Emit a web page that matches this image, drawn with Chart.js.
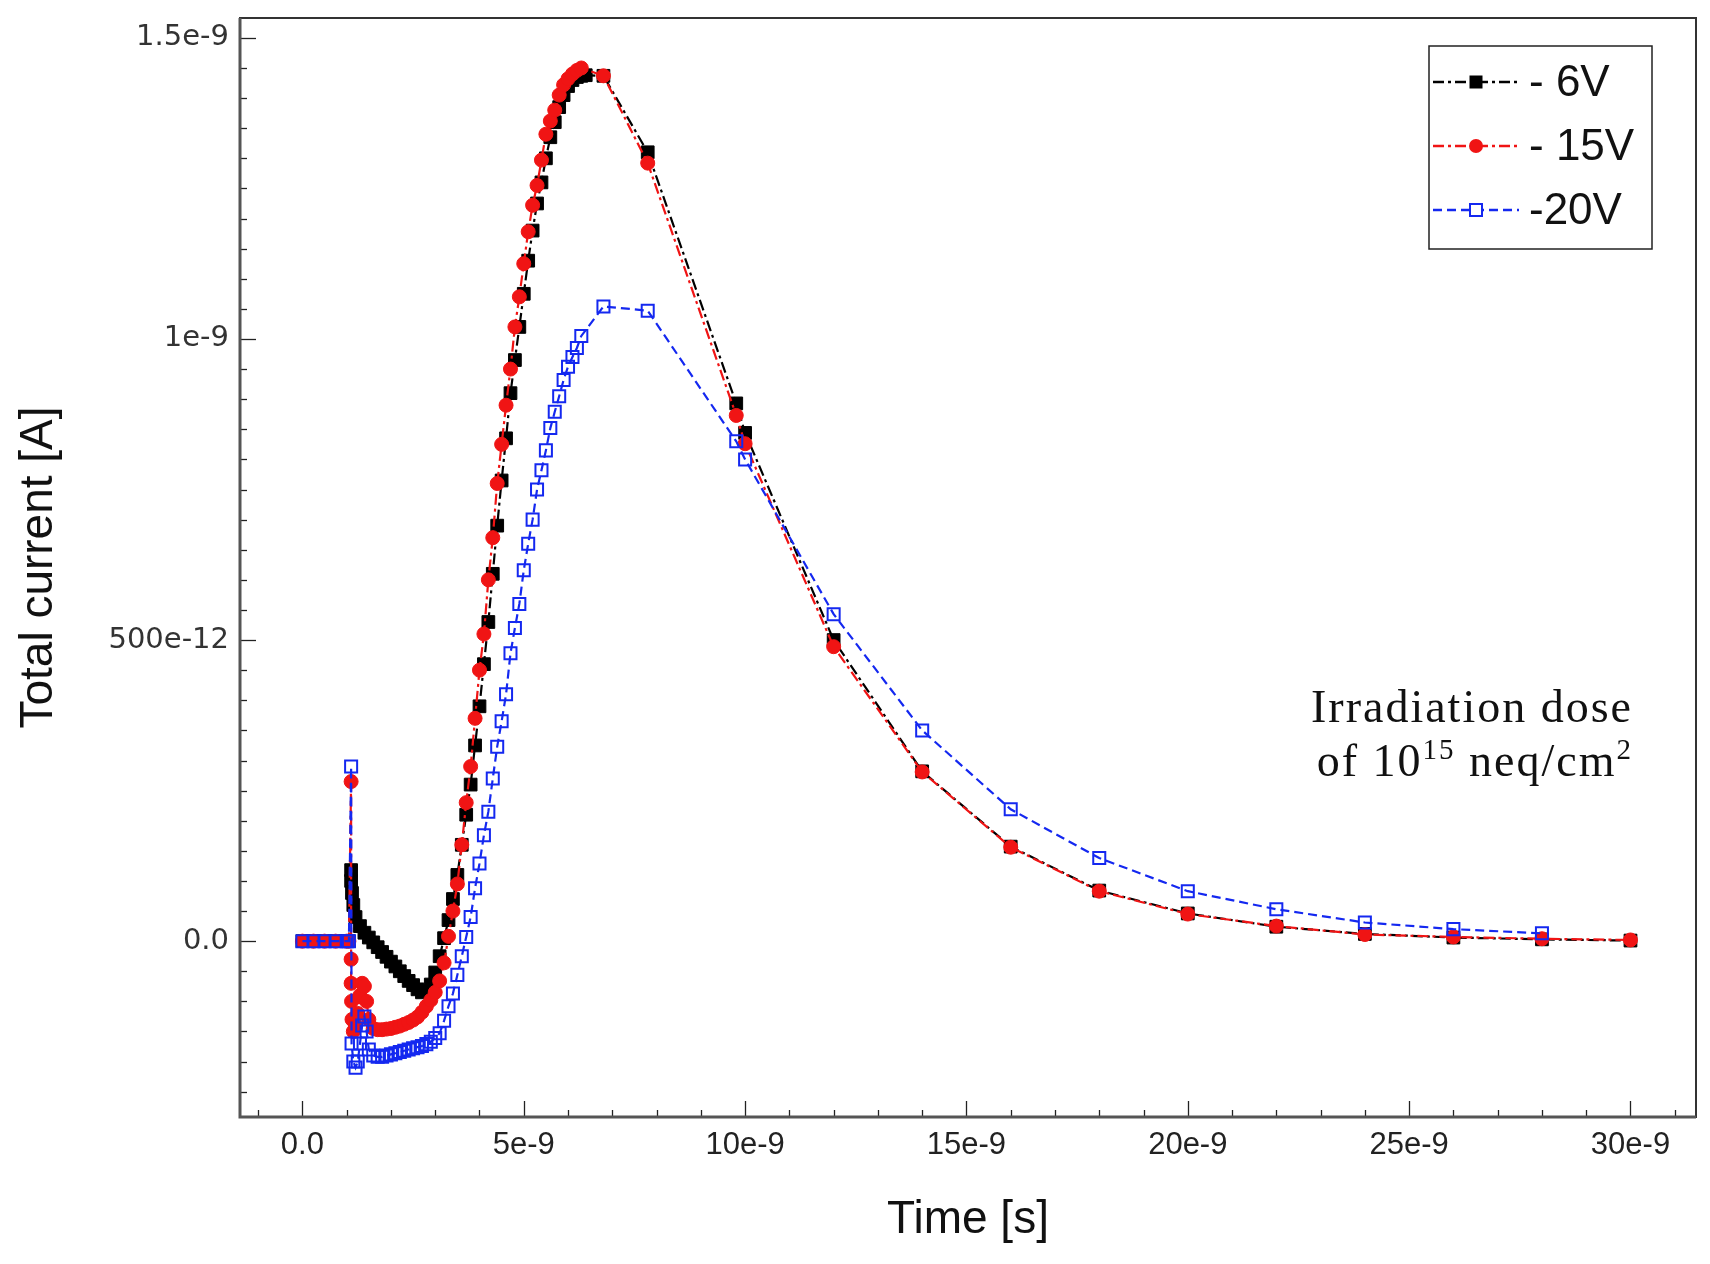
<!DOCTYPE html>
<html>
<head>
<meta charset="utf-8">
<script src="https://cdn.jsdelivr.net/npm/chart.js@4.4.0/dist/chart.umd.min.js"></script>
<style>
  html, body { margin: 0; padding: 0; background: #fff; }
  #wrap { width: 1710px; height: 1264px; }
</style>
</head>
<body>
<div id="wrap"><canvas id="cur_chart" width="1710" height="1264"></canvas></div>
<script>
// ---- data (time in ns, current in nA)
const time6V = [0, 0.25, 0.5, 0.75, 1.0, 1.05, 1.1, 1.1, 1.12, 1.15,
  1.2, 1.3, 1.4, 1.5, 1.6, 1.7, 1.8, 1.9, 2.0, 2.1, 2.2, 2.3, 2.4, 2.5, 2.6, 2.7, 2.8, 2.9,
  3.0, 3.1, 3.2, 3.3, 3.4, 3.5, 3.6, 3.7, 3.8, 3.9, 4.0, 4.1, 4.2, 4.3, 4.4, 4.5, 4.6, 4.7, 4.8, 4.9,
  5.0, 5.1, 5.2, 5.3, 5.4, 5.5, 5.6, 5.7, 5.8, 5.9, 6.0, 6.1, 6.2, 6.3, 6.4,
  6.8, 7.8, 9.8, 10, 12, 14, 16, 18, 20, 22, 24, 26, 28, 30];
const curr6V = [0, 0, 0, 0, 0, 0, 0.118, 0.10, 0.08, 0.06,
  0.04, 0.025, 0.014, 0.006, -0.002, -0.010, -0.018, -0.026, -0.034, -0.042, -0.050, -0.058, -0.066, -0.073, -0.080, -0.085, -0.083, -0.072,
  -0.052, -0.025, 0.005, 0.035, 0.07, 0.11, 0.16, 0.21, 0.26, 0.325, 0.39, 0.46, 0.53, 0.61, 0.69, 0.765, 0.835, 0.91, 0.965, 1.02,
  1.075, 1.13, 1.18, 1.225, 1.26, 1.30, 1.335, 1.36, 1.385, 1.405, 1.42, 1.43, 1.435, 1.437, 1.438,
  1.437, 1.31, 0.893, 0.844, 0.50, 0.282, 0.157, 0.084, 0.046, 0.024, 0.012, 0.006, 0.003, 0.001];

const time15V = [0, 0.25, 0.5, 0.75, 1.0, 1.05, 1.1, 1.1, 1.1, 1.11, 1.12, 1.15, 1.2, 1.25, 1.3, 1.35, 1.4, 1.45, 1.5,
  1.6, 1.7, 1.8, 1.9, 2.0, 2.1, 2.2, 2.3, 2.4, 2.5, 2.6, 2.7, 2.8, 2.9,
  3.0, 3.1, 3.2, 3.3, 3.4, 3.5, 3.6, 3.7, 3.8, 3.9, 4.0, 4.1, 4.2, 4.3, 4.4, 4.5, 4.6, 4.7, 4.8, 4.9,
  5.0, 5.1, 5.2, 5.3, 5.4, 5.5, 5.6, 5.7, 5.8, 5.9, 6.0, 6.1, 6.2, 6.3,
  6.8, 7.8, 9.8, 10, 12, 14, 16, 18, 20, 22, 24, 26, 28, 30];
const curr15V = [0, 0, 0, 0, 0, 0, 0.265, -0.03, -0.07, -0.10, -0.13, -0.15, -0.14, -0.12, -0.09, -0.07, -0.075, -0.10, -0.13,
  -0.145, -0.147, -0.147, -0.146, -0.145, -0.143, -0.141, -0.138, -0.135, -0.131, -0.126, -0.118, -0.108, -0.098,
  -0.085, -0.066, -0.036, 0.008, 0.05, 0.095, 0.16, 0.23, 0.29, 0.37, 0.45, 0.51, 0.60, 0.67, 0.76, 0.825, 0.89, 0.95, 1.02, 1.07,
  1.125, 1.178, 1.222, 1.255, 1.297, 1.34, 1.362, 1.38, 1.405, 1.422, 1.432, 1.44, 1.446, 1.45,
  1.437, 1.292, 0.873, 0.826, 0.489, 0.281, 0.156, 0.083, 0.045, 0.025, 0.011, 0.007, 0.004, 0.002];

const time20V = [0, 0.25, 0.5, 0.75, 1.0, 1.05, 1.1, 1.11, 1.15, 1.2, 1.25, 1.3, 1.35, 1.4, 1.45, 1.5,
  1.6, 1.7, 1.8, 1.9, 2.0, 2.1, 2.2, 2.3, 2.4, 2.5, 2.6, 2.7, 2.8, 2.9,
  3.0, 3.1, 3.2, 3.3, 3.4, 3.5, 3.6, 3.7, 3.8, 3.9, 4.0, 4.1, 4.2, 4.3, 4.4, 4.5, 4.6, 4.7, 4.8, 4.9,
  5.0, 5.1, 5.2, 5.3, 5.4, 5.5, 5.6, 5.7, 5.8, 5.9, 6.0, 6.1, 6.2, 6.3,
  6.8, 7.8, 9.8, 10, 12, 14, 16, 18, 20, 22, 24, 26, 28];
const curr20V = [0, 0, 0, 0, 0, 0, 0.29, -0.17, -0.20, -0.21, -0.20, -0.17, -0.14, -0.125, -0.15, -0.18,
  -0.19, -0.192, -0.192, -0.19, -0.188, -0.186, -0.184, -0.182, -0.18, -0.178, -0.176, -0.174, -0.171, -0.167,
  -0.161, -0.153, -0.132, -0.108, -0.087, -0.056, -0.025, 0.007, 0.04, 0.088, 0.129, 0.176, 0.215, 0.27, 0.323, 0.365, 0.41, 0.478, 0.52, 0.56,
  0.616, 0.66, 0.70, 0.75, 0.782, 0.815, 0.852, 0.879, 0.905, 0.932, 0.954, 0.97, 0.985, 1.005,
  1.054, 1.047, 0.83, 0.80, 0.543, 0.350, 0.219, 0.138, 0.083, 0.053, 0.031, 0.020, 0.013];

const xTickValues = [0, 5, 10, 15, 20, 25, 30];
const xTickLabels = ['0.0', '5e-9', '10e-9', '15e-9', '20e-9', '25e-9', '30e-9'];
const yTickValues = [0, 0.5, 1, 1.5];
const yTickLabels = ['0.0', '500e-12', '1e-9', '1.5e-9'];
const seriesNames = ['- 6V', '- 15V', '-20V'];

// ---- helpers
function toPoints(t, v) {
    return t.map((x, k) => ({x: x, y: v[k]}));
}

function drawMarker(ctx, style, x, y, color) {
    ctx.save();
    ctx.setLineDash([]);
    if (style === 'circle') {
        ctx.fillStyle = color;
        ctx.beginPath();
        ctx.arc(x, y, 7, 0, Math.PI * 2);
        ctx.fill();
    } else if (style === 'square') {
        ctx.fillStyle = color;
        ctx.fillRect(x - 6.5, y - 6.5, 13, 13);
    } else {
        ctx.strokeStyle = color;
        ctx.lineWidth = 2;
        ctx.fillStyle = '#fff';
        ctx.fillRect(x - 6, y - 6, 12, 12);
        ctx.strokeRect(x - 6, y - 6, 12, 12);
    }
    ctx.restore();
}

// ---- frame, inward ticks, legend, note
const framePlugin = {
    id: 'framePlugin',
    afterDraw(chart) {
        const ctx = chart.ctx;
        const a = chart.chartArea;
        const xs = chart.scales.x, ys = chart.scales.y;
        ctx.save();
        // ticks
        ctx.strokeStyle = '#222';
        ctx.lineWidth = 1.3;
        for (let v = -1; v <= 31; v++) {
            const px = Math.round(xs.getPixelForValue(v)) + 0.5;
            const len = (v % 5 === 0) ? 16 : 7;
            ctx.beginPath(); ctx.moveTo(px, a.bottom); ctx.lineTo(px, a.bottom - len); ctx.stroke();
        }
        for (let k = -5; k <= 30; k++) {
            const v = k * 0.05;
            const py = Math.round(ys.getPixelForValue(v)) + 0.5;
            const len = (k % 10 === 0) ? 16 : 7;
            ctx.beginPath(); ctx.moveTo(a.left, py); ctx.lineTo(a.left + len, py); ctx.stroke();
        }
        // frame
        ctx.strokeStyle = '#333';
        ctx.lineWidth = 2;
        ctx.strokeRect(a.left, a.top, a.right - a.left, a.bottom - a.top);
        ctx.strokeStyle = '#555';
        ctx.lineWidth = 3;
        ctx.beginPath();
        ctx.moveTo(a.left, a.top); ctx.lineTo(a.left, a.bottom); ctx.lineTo(a.right, a.bottom);
        ctx.stroke();

        // ---- legend
        const lx = 1429, ly = 46, lw = 223, lh = 203;
        ctx.fillStyle = '#fff';
        ctx.fillRect(lx, ly, lw, lh);
        ctx.strokeStyle = '#222';
        ctx.lineWidth = 1.5;
        ctx.strokeRect(lx, ly, lw, lh);
        const rows = [82, 146, 210];
        chart.data.datasets.forEach((ds, i) => {
            const yy = rows[i];
            ctx.strokeStyle = ds.borderColor;
            ctx.lineWidth = 2.4;
            ctx.setLineDash(ds.borderDash);
            ctx.beginPath(); ctx.moveTo(1433, yy); ctx.lineTo(1519, yy); ctx.stroke();
            ctx.setLineDash([]);
            drawMarker(ctx, ds.markerKind, 1476, yy, ds.borderColor);
            ctx.fillStyle = '#111';
            ctx.font = '44px "Liberation Sans", Arial, sans-serif';
            ctx.textAlign = 'left';
            ctx.textBaseline = 'middle';
            ctx.fillText(seriesNames[i], 1529, yy + 2);
        });

        // ---- note
        ctx.fillStyle = '#111';
        ctx.textBaseline = 'alphabetic';
        ctx.textAlign = 'left';
        const big = '46px "Liberation Serif", "Times New Roman", serif';
        const small = '29px "Liberation Serif", "Times New Roman", serif';
        ctx.letterSpacing = '2px';
        ctx.font = big;
        const line1 = 'Irradiation dose';
        const w1 = ctx.measureText(line1).width;
        ctx.fillText(line1, 1633 - w1, 722);
        const parts = [['of 10', big, 0], ['15', small, -17], [' neq/cm', big, 0], ['2', small, -17]];
        let total = 0;
        parts.forEach(p => { ctx.font = p[1]; total += ctx.measureText(p[0]).width; });
        let cx = 1633 - total;
        parts.forEach(p => {
            ctx.font = p[1];
            ctx.fillText(p[0], cx, 776 + p[2]);
            cx += ctx.measureText(p[0]).width;
        });
        ctx.restore();
    }
};

// ---- chart
const ctx = document.getElementById('cur_chart').getContext('2d');
const curChart = new Chart(ctx, {
    type: 'scatter',
    data: {
        datasets: [
            {
                label: seriesNames[0],
                data: toPoints(time6V, curr6V),
                showLine: true,
                borderColor: '#000000',
                backgroundColor: '#000000',
                borderWidth: 2.2,
                borderDash: [11, 4, 3, 4],
                pointStyle: 'rect',
                pointRadius: 9,
                pointBackgroundColor: '#000000',
                pointBorderColor: '#000000',
                pointBorderWidth: 1,
                markerKind: 'square',
                order: 3
            },
            {
                label: seriesNames[1],
                data: toPoints(time15V, curr15V),
                showLine: true,
                borderColor: '#f01414',
                backgroundColor: '#f01414',
                borderWidth: 2.2,
                borderDash: [11, 4, 3, 4],
                pointStyle: 'circle',
                pointRadius: 7,
                pointBackgroundColor: '#f01414',
                pointBorderColor: '#f01414',
                pointBorderWidth: 1,
                markerKind: 'circle',
                order: 2
            },
            {
                label: seriesNames[2],
                data: toPoints(time20V, curr20V),
                showLine: true,
                borderColor: '#1428f0',
                backgroundColor: 'rgba(255,255,255,0)',
                borderWidth: 2.2,
                borderDash: [9, 5],
                pointStyle: 'rect',
                pointRadius: 8.5,
                pointBackgroundColor: 'rgba(255,255,255,0)',
                pointBorderColor: '#1428f0',
                pointBorderWidth: 2,
                markerKind: 'hollow',
                order: 1
            }
        ]
    },
    options: {
        responsive: false,
        animation: false,
        devicePixelRatio: 1,
        layout: { padding: { top: 18, right: 14, left: 0, bottom: 0 } },
        plugins: {
            legend: { display: false },
            tooltip: { enabled: false }
        },
        scales: {
            x: {
                type: 'linear',
                min: -1.41,
                max: 31.48,
                grid: { display: false, drawTicks: false },
                border: { display: false },
                afterBuildTicks: (s) => { s.ticks = xTickValues.map(v => ({value: v})); },
                afterFit: (s) => { s.height = 147; },
                ticks: {
                    autoSkip: false,
                    maxRotation: 0,
                    padding: 10,
                    color: '#222',
                    font: { family: '"Liberation Sans", Arial, sans-serif', size: 31 },
                    callback: (v, i) => xTickLabels[i]
                },
                title: {
                    display: true,
                    text: 'Time [s]',
                    color: '#111',
                    font: { family: '"Liberation Sans", Arial, sans-serif', size: 46 },
                    padding: { top: 0, bottom: 16 }
                }
            },
            y: {
                type: 'linear',
                min: -0.292,
                max: 1.533,
                grid: { display: false, drawTicks: false },
                border: { display: false },
                afterBuildTicks: (s) => { s.ticks = yTickValues.map(v => ({value: v})); },
                afterFit: (s) => { s.width = 240; s.paddingTop = 0; s.paddingBottom = 0; },
                ticks: {
                    autoSkip: false,
                    padding: 11,
                    color: '#333',
                    font: { family: '"DejaVu Sans", sans-serif', size: 29 },
                    callback: (v, i) => yTickLabels[i]
                },
                title: {
                    display: true,
                    text: 'Total current [A]',
                    color: '#111',
                    font: { family: '"Liberation Sans", Arial, sans-serif', size: 46 },
                    padding: { top: 12, bottom: 0 }
                }
            }
        }
    },
    plugins: [framePlugin]
});
</script>
</body>
</html>
